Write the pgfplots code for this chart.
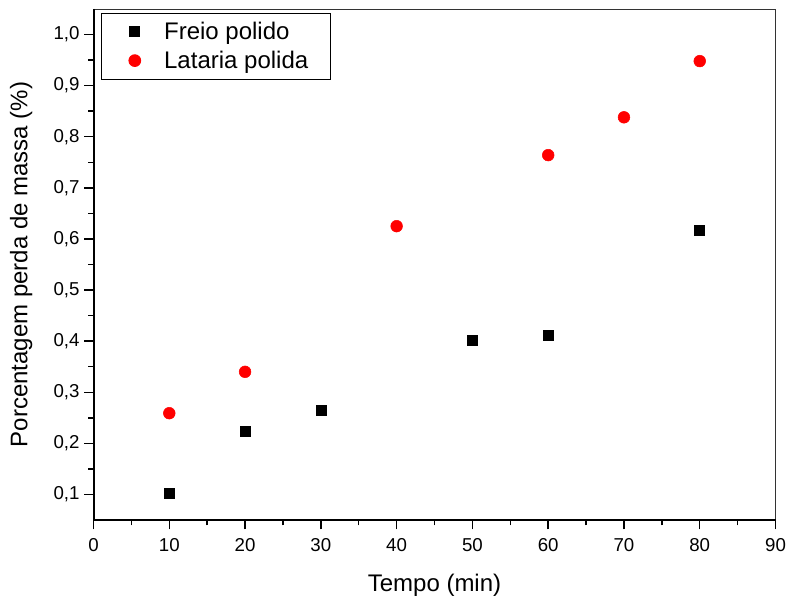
\documentclass[border=0pt]{standalone}
\usepackage{fontspec}
\setmainfont{Liberation Sans}
\usepackage{pgfplots}
\pgfplotsset{compat=1.18}

\begin{document}
\begin{tikzpicture}[x=0.75pt,y=0.75pt]
\begin{axis}[
    scale only axis,
    width=511.5pt, height=383.25pt,
    xmin=0, xmax=90, ymin=0.05, ymax=1.05,
    xtick={0,10,...,90},
    ytick={0.1,0.2,...,1.0},
    minor x tick num=1, minor y tick num=1,
    tick align=outside, xtick pos=bottom, ytick pos=left,
    major tick length=7pt, minor tick length=4pt,
    every tick/.style={black, line width=1.1pt},
    axis line style={line width=0.7pt, black!80},
    yticklabel style={/pgf/number format/.cd, use comma, fixed, fixed zerofill, precision=1},
    xticklabel style={yshift=-3pt},
    /pgf/number format/assume math mode=true,
    tick label style={font=\fontsize{14}{16}\selectfont},
    xlabel={Tempo (min)}, ylabel={Porcentagem perda de massa (\%)},
    label style={font=\fontsize{18}{20}\selectfont},
    xlabel style={yshift=-10pt},
    ylabel style={yshift=9pt},
    legend style={at={(0.011,0.992)}, anchor=north west, draw=black, line width=0.7pt,
        font=\fontsize{18}{20}\selectfont, inner xsep=15pt, inner ysep=4.5pt,
        row sep=3pt, cells={anchor=west}},
    legend image code/.code={
        \path[draw=none] (0pt,0pt) -- (30pt,0pt);
        \draw[#1] plot coordinates {(10pt,0pt)};},
    legend cell align=left,
    clip=false,
]
\addplot[only marks, mark=square*, mark size=3.75pt, black] coordinates {
    (10,0.102) (20,0.224) (30,0.265) (50,0.402) (60,0.412) (80,0.617)};
\addplot[only marks, mark=*, mark size=4.4pt, red, mark options={draw=red, fill=red}] coordinates {
    (10,0.259) (20,0.340) (40,0.625) (60,0.764) (70,0.838) (80,0.948)};
\legend{Freio polido, Lataria polida}
\draw[line width=1.5pt, black] (rel axis cs:0,1) -- (rel axis cs:0,0) -- (rel axis cs:1,0);
\coordinate (tl) at (rel axis cs:-0.1371,1.0176);
\coordinate (br) at (rel axis cs:1.0183,-0.1546);
\end{axis}
\pgfresetboundingbox
\path[use as bounding box] (tl) rectangle (br);
\end{tikzpicture}
\end{document}
